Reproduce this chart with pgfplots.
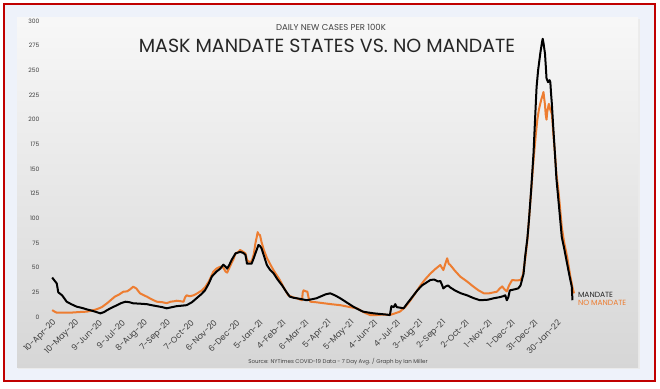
\documentclass[border=0pt]{standalone}
\usepackage{pgfplots}
\pgfplotsset{compat=1.18}
\usepackage{fontspec}
\setmainfont{Poppins}
\definecolor{orng}{HTML}{ED7D31}
\definecolor{txt}{HTML}{404040}
\definecolor{frame}{HTML}{C00000}
\definecolor{outer}{HTML}{EEF2FA}
\pgfplotstableread{
d v
0 40
3 37
6 34
8 25
13 22
19 15.5
25 13
32 10.5
40 9
45 7.8
52 6.4
58 5
63 3.7
68 5
72 7
78 9.5
85 12
90 14
96 15.5
101 15
106 13.9
115 13.5
124 13
130 12
137 11
144 10
150 8.8
157 10
163 11
170 11.5
176 12
183 15
189 19
195 23
200 27
205 34
209 41
215 46
220 49
224 53
227 51
229 49
232 53
235 58
240 64.5
246 66
250 65
253 63
255 54
258 54
261 54
264 60
266 64.5
270 73
272 72
274 69.6
278 60
281 52.7
285 48
290 44
295 38
301 32
306 26
311 20.6
316 19.5
320 19
327 18
333 17
340 18
346 19
352 21
358 23
364 24
370 22
377 19
385 15
394 10.5
400 8
407 5.4
414 4.5
421 3.7
430 3
437 2.5
442 2
444 11
447 10
449 13
451 10
455 9.5
460 8.8
466 15
473 22
478 27
484 32
490 35
495 37.5
500 38
505 36
508 36.5
510 33
512 29
515 31
518 32
521 30
527 27
535 24
543 22
552 19
560 17
570 17.5
578 19
585 20
590 21
593 22
595 17
597 20
599 27
605 28
610 29
613 32
617 44
619 61
622 80
624 98
627 130
630 166
632 200
634 233
636 250
638 262
639 268
641 278
642 282
643 278
645 267
646 255
647 242
649 238
651 240
652 238
653 226
654 216
656 190
658 166
660 140
663 115
665 98
667 81
670 70
674 54
677 42
680 31
681 17
}\mandate
\pgfplotstableread{
d v
0 7
3 5.5
6 4.4
15 4.5
24 4.4
35 5
45 5.4
52 6.5
58 7.8
65 10
72 14
78 18
82 20.6
88 23
93 25.6
98 26
102 28
106 30.7
110 29
115 24
120 22
124 20.6
130 18
137 15.5
144 15
150 14
155 15.5
160 16
163 16.5
168 16
172 15.5
174 20
176 22
180 21
185 22
190 24
196 27
200 30
205 36
208 41
211 46
215 49
220 51
224 50
227 46
229 45
232 50
235 55
237 58
240 64.5
244 66
246 68
250 66
253 64.5
255 58
257 56
261 56
264 64
266 74.7
268 82
269 86
270 84
272 83
274 76
277 68
281 60
285 54
290 47
298 37.5
303 30
309 22
315 20
320 19
327 17
328 25
329 27
332 26
334 25.6
336 18
338 15.5
345 15
355 14
365 13
377 12
390 10
399 8.8
405 6
410 4
416 2
425 2
433 2.5
442 2
448 3.5
455 5.4
462 10
469 17
476 25
482 32
488 38
495 44
502 49
508 52.7
510 50
512 47.6
515 55
517 59.5
519 54
521 52.7
527 47
534 41
543 36
551 31
558 27
565 24
572 24
578 25
582 25.6
586 29
589 31
592 28
595 26
598 32
602 37.5
608 37
613 37.5
616 42
619 58
622 78
624 98
627 128
630 159
633 185
635 200
637 210
640 220
642 225
643 228
645 215
646 205
647 200
648 208
650 216
652 210
654 206
656 185
658 166
660 145
663 125
665 108
667 91
670 76
674 61
678 42
681 30
683 24
}\nomandate
\begin{document}
\begin{tikzpicture}[x=1pt,y=1pt]
\useasboundingbox (0,0) rectangle (660,388);
\fill[white] (0,0) rectangle (660,388);
\fill[outer] (4,7) rectangle (655,384);
\fill[black!8] (18,19) rectangle (640,369);
\shade[top color=black!3, bottom color=black!16] (17,21) rectangle (638,370);
\draw[frame, line width=2.5pt] (4,7) rectangle (655,384);
\begin{axis}[
  at={(43pt,71pt)}, anchor=south west,
  scale only axis, width=544pt, height=296pt,
  xmin=-12, xmax=700, ymin=0, ymax=300,
  axis line style={draw=none}, tick style={draw=none},
  ytick={0,25,...,300},
  xtick={0,30,...,660},
  xticklabels={10-Apr-20,10-May-20,9-Jun-20,9-Jul-20,8-Aug-20,7-Sep-20,7-Oct-20,6-Nov-20,6-Dec-20,5-Jan-21,4-Feb-21,6-Mar-21,5-Apr-21,5-May-21,4-Jun-21,4-Jul-21,3-Aug-21,2-Sep-21,2-Oct-21,1-Nov-21,1-Dec-21,31-Dec-21,30-Jan-22},
  x tick label style={rotate=45, anchor=east, font=\fontsize{8.3}{9}\selectfont, text=txt, yshift=-5pt, inner sep=1pt},
  y tick label style={font=\fontsize{6}{7}\selectfont, text=txt},
  /pgf/number format/assume math mode=true,
  clip=false,
]
\addplot[orng, line width=2pt, line join=round] table[x=d,y=v] {\nomandate};
\addplot[black, line width=2pt, line join=round] table[x=d,y=v] {\mandate};
\node[anchor=west, text=black!85, font=\fontsize{7.5}{8}\selectfont, inner sep=0pt] at (axis cs:688,22) {MANDATE};
\node[anchor=west, text=orng, font=\fontsize{7.5}{8}\selectfont, inner sep=0pt] at (axis cs:688,14) {NO MANDATE};
\end{axis}
\node[text=txt, font=\fontsize{8.5}{9}\selectfont] at (331,361) {DAILY NEW CASES PER 100K};
\node[text=black!85, font=\fontsize{19}{20}\selectfont] at (327,342) {MASK MANDATE STATES VS. NO MANDATE};
\node[text=txt, font=\fontsize{5.5}{6}\selectfont] at (338,26) {Source: NYTimes COVID-19 Data - 7 Day Avg. / Graph by Ian Miller};
\end{tikzpicture}
\end{document}
